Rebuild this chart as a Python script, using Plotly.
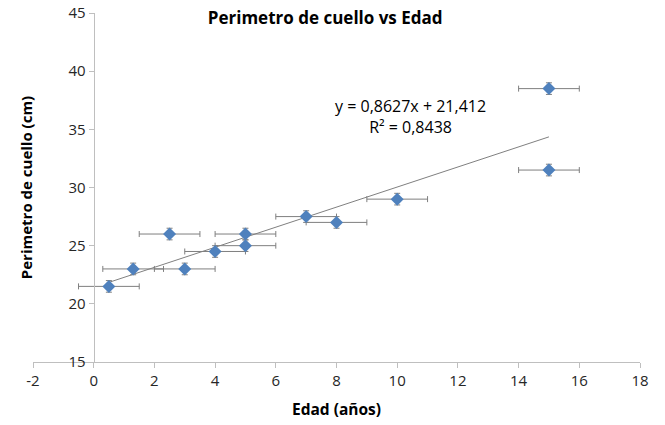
import plotly.graph_objects as go

edad = [0.5, 1.3, 2.5, 3, 4, 5, 5, 7, 8, 10, 15, 15]
perimetro = [21.5, 23, 26, 23, 24.5, 25, 26, 27.5, 27, 29, 38.5, 31.5]
err_x = [1] * len(edad)
err_y = [0.5] * len(edad)

slope = 0.8627
intercept = 21.412
r2 = 0.8438

x_ticks = [-2, 0, 2, 4, 6, 8, 10, 12, 14, 16, 18]
x_tick_labels = ["-2", "0", "2", "4", "6", "8", "10", "12", "14", "16", "18"]
y_ticks = [15, 20, 25, 30, 35, 40, 45]

font = "Open Sans"

fig = go.Figure()

x_fit = [min(edad), max(edad)]
y_fit = [slope * v + intercept for v in x_fit]
fig.add_trace(go.Scatter(x=x_fit, y=y_fit, mode="lines",
                         line=dict(color="#808080", width=1), showlegend=False))

fig.add_trace(go.Scatter(
    x=edad, y=perimetro, mode="markers",
    marker=dict(symbol="diamond", size=10, color="#4F81BD"),
    error_x=dict(type="data", array=err_x, color="#7F7F7F", thickness=1, width=3),
    error_y=dict(type="data", array=err_y, color="#7F7F7F", thickness=1, width=3),
    showlegend=False))

fig.update_layout(
    width=665, height=425,
    margin=dict(l=33, r=25, t=13, b=63),
    paper_bgcolor="white", plot_bgcolor="white",
    font=dict(family=font, size=15, color="#262626"),
    title=dict(text="<b>Perimetro de cuello vs Edad</b>", x=0.489, xanchor="center",
               y=0.957, yanchor="middle", font=dict(size=17, color="#000000")),
    xaxis=dict(range=[-2, 18], tickvals=x_ticks, ticktext=x_tick_labels,
               showgrid=False, zeroline=False, automargin=False,
               showline=True, linecolor="#BFBFBF", linewidth=1,
               ticks="outside", ticklen=5, tickcolor="#BFBFBF",
               title=dict(text="<b>Edad (años)</b>", font=dict(size=15.5, color="#000000"), standoff=15)),
    yaxis=dict(range=[15, 45], tickvals=y_ticks, showgrid=False, zeroline=False,
               anchor="free", position=0.1, automargin=False,
               showline=True, linecolor="#BFBFBF", linewidth=1,
               ticks="outside", ticklen=5, tickcolor="#BFBFBF",
               title=dict(text="<b>Perimetro de cuello (cm)</b>", font=dict(size=15, color="#000000"), standoff=31)),
    annotations=[dict(xref="paper", yref="paper", x=0.622, y=0.704, xanchor="center", yanchor="middle",
                      showarrow=False, align="center",
                      text=f"y = {str(slope).replace('.', ',')}x + {str(intercept).replace('.', ',')}<br>R² = {str(r2).replace('.', ',')}",
                      font=dict(size=16, color="#000000"))],
)

fig.write_html("out.html", config={"displayModeBar": False},
               post_script="document.body.style.margin='0px';")
